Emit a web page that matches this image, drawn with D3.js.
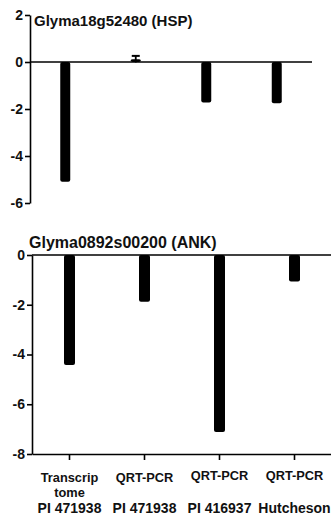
<!DOCTYPE html>
<html>
<head>
<meta charset="utf-8">
<script src="https://cdn.jsdelivr.net/npm/d3@7"></script>
<style>
  body { margin: 0; background: #fff; }
  svg { font-family: Arial, "Liberation Sans", sans-serif; font-weight: bold; }
</style>
</head>
<body>
<div id="chart"></div>
<script>
// --- data
const categories = ['t1', 'q1', 'q2', 'q3'];
const methodLabels = [['Transcrip', 'tome'], ['QRT-PCR'], ['QRT-PCR'], ['QRT-PCR']];
const lineLabels = ['PI 471938', 'PI 471938', 'PI 416937', 'Hutcheson'];
const hspTitle = 'Glyma18g52480 (HSP)';
const hspValues = [-5.1, 0.12, -1.72, -1.76];
const hspErrors = [0, 0.14, 0, 0];
const hspTicks = [2, 0, -2, -4, -6];
const ankTitle = 'Glyma0892s00200 (ANK)';
const ankValues = [-4.42, -1.88, -7.12, -1.07];
const ankTicks = [0, -2, -4, -6, -8];

const W = 331, H = 527;
const svg = d3.select('#chart').append('svg')
    .attr('width', W).attr('height', H);

function panel(opts) {
    const x = d3.scaleBand().domain(categories).range([opts.x0, opts.x1]);
    const y = d3.scaleLinear().domain(opts.domain).range([opts.yTop, opts.yBot]);
    const g = svg.append('g');

    // y axis
    const ay = g.append('g')
        .attr('transform', `translate(${opts.x0},0)`)
        .call(d3.axisLeft(y).tickValues(opts.ticks).tickFormat(d => String(d))
            .tickSize(5).tickSizeOuter(0).tickPadding(2));
    ay.select('.domain').attr('stroke-width', 1.6);
    ay.selectAll('.tick line').attr('stroke-width', 1.6);
    ay.selectAll('.tick text').attr('font-size', 14).attr('font-weight', 'bold').attr('fill', '#111');

    // bars
    g.append('g').selectAll('rect')
        .data(opts.values)
        .join('rect')
        .attr('x', (d, i) => x(categories[i]) + x.bandwidth() / 2 - opts.bw / 2)
        .attr('y', d => y(Math.max(0, d)))
        .attr('width', opts.bw)
        .attr('height', d => Math.abs(y(d) - y(0)))
        .attr('rx', 2)
        .attr('fill', '#000');

    // error bars
    if (opts.errors) {
        opts.errors.forEach((e, i) => {
            if (!e) return;
            const cx = x(categories[i]) + x.bandwidth() / 2;
            const v = opts.values[i];
            g.append('line').attr('x1', cx).attr('x2', cx)
                .attr('y1', y(v + e)).attr('y2', y(v - e))
                .attr('stroke', '#000').attr('stroke-width', 1.8);
            g.append('line').attr('x1', cx - 4).attr('x2', cx + 4)
                .attr('y1', y(v + e)).attr('y2', y(v + e))
                .attr('stroke', '#000').attr('stroke-width', 2);
        });
    }

    // zero / baseline line
    g.append('line')
        .attr('x1', opts.x0).attr('x2', opts.lineEnd)
        .attr('y1', y(0)).attr('y2', y(0))
        .attr('stroke', '#000').attr('stroke-width', 1.6);

    g.append('text')
        .attr('x', opts.titleX).attr('y', opts.titleY)
        .attr('font-size', opts.titleSize).attr('fill', '#111')
        .text(opts.title);

    return {x, y, g};
}

panel({
    x0: 30, x1: 312, lineEnd: 312, yTop: 15, yBot: 203,
    domain: [2, -6], ticks: hspTicks, values: hspValues, errors: hspErrors,
    bw: 10, title: hspTitle, titleX: 34, titleY: 26, titleSize: 15
});

const ank = panel({
    x0: 32, x1: 332, lineEnd: 331, yTop: 255, yBot: 454,
    domain: [0, -8], ticks: ankTicks, values: ankValues,
    bw: 11, title: ankTitle, titleX: 29, titleY: 248, titleSize: 16
});

// bottom x axis
const ax = svg.append('g')
    .attr('transform', `translate(0,${ank.y(-8)})`)
    .call(d3.axisBottom(ank.x).tickSize(6).tickSizeOuter(0).tickFormat(''));
ax.select('.domain').attr('stroke-width', 1.6);
ax.selectAll('.tick line').attr('stroke-width', 1.6);

const labels = svg.append('g').attr('text-anchor', 'middle').attr('fill', '#111');
categories.forEach((c, i) => {
    const cx = ank.x(c) + ank.x.bandwidth() / 2;
    methodLabels[i].forEach((t, j) => {
        labels.append('text')
            .attr('x', cx).attr('y', 482 - (i > 1 ? 2 : 0) + j * 15)
            .attr('font-size', 12.8)
            .text(t);
    });
    labels.append('text')
        .attr('x', cx).attr('y', 513)
        .attr('font-size', 14)
        .text(lineLabels[i]);
});
</script>
</body>
</html>
